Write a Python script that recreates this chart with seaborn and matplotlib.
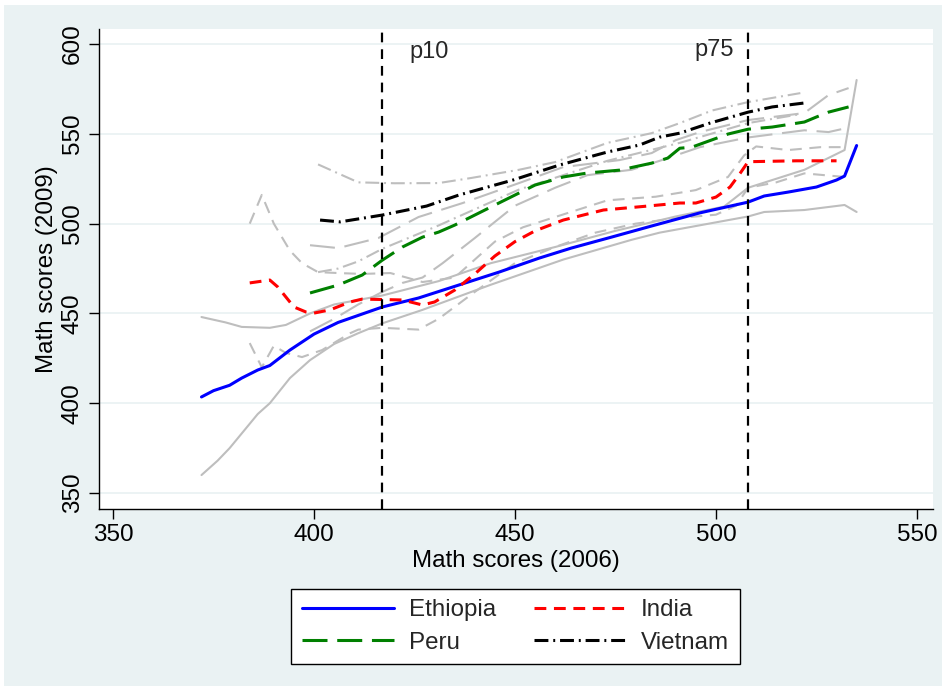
import numpy as np
import pandas as pd
import matplotlib
matplotlib.use("Agg")
import matplotlib.pyplot as plt
from matplotlib.patches import Rectangle
import seaborn as sns

# ---------------- data ----------------
eth_x = [372, 375, 379, 382, 386, 389, 394, 400, 406, 417, 426, 436, 446, 456, 464, 474, 484, 496, 508, 512, 518, 525, 530, 532, 535]
eth_y = [403.5, 407, 410, 414, 418.5, 421, 429.6, 438.5, 445, 453.6, 458.6, 465.8, 473, 480.8, 486.4, 492.5, 498.7, 506, 512, 515.4, 517.6, 520.4, 524.3, 526.5, 543.5]

ind_x = [384, 389, 391, 395, 398, 400, 404, 409, 412, 422, 427, 430, 435, 440, 445, 450, 455, 462, 472, 483, 491, 495, 500, 503.5, 506, 508, 520, 530]
ind_y = [467, 468.6, 464.7, 453.6, 450.8, 450.2, 452, 456.4, 458, 457.5, 454.7, 456.4, 463, 472, 482, 490, 496, 502, 507.6, 509.8, 511.5, 511.5, 514.8, 520.4, 528, 534.5, 535, 535]

per_x = [399, 406, 412, 417, 422, 427, 431, 435, 446, 455, 462, 468, 476, 484, 488, 491, 494, 503, 508, 514, 522, 525, 528, 533]
per_y = [461.4, 465.8, 471.4, 479.7, 487, 492.5, 495.3, 499.2, 511.5, 521.5, 526, 528.2, 529.8, 533.7, 536.5, 542, 542.6, 549.9, 552.6, 553.8, 556.6, 559.4, 562.1, 565]

vie_x = [401.5, 406.5, 417, 428, 436, 449.5, 461, 473, 481, 486, 491, 498.5, 508, 514, 522]
vie_y = [502, 501, 504.8, 509.8, 515.9, 524.3, 532.6, 539.9, 543.8, 548.2, 550.4, 556, 562.1, 565, 567.2]

# grey companion bands (upper / lower) for each country
eth_hi_x = [372, 378, 382, 389, 393, 399, 405, 417, 431, 444, 460, 475, 490, 502, 508, 522, 532, 535]
eth_hi_y = [448, 445, 442.5, 442, 443.6, 450, 455, 460, 468, 478, 487, 496, 504, 509.5, 520, 530, 541, 580]
eth_lo_x = [372, 376, 379, 386, 389, 394, 399, 405, 411, 417, 427, 444, 462, 479, 486, 508, 512, 522, 532, 535]
eth_lo_y = [360, 368, 375, 394, 400, 414, 424, 433, 439, 444.5, 452, 466, 480, 491, 495, 504, 506.5, 507.6, 510.4, 506.5]

ind_hi_x = [384, 387, 390, 394, 397, 401, 406, 412, 419, 427, 435, 445, 452, 460, 473, 485, 495, 503, 507, 510, 518, 526, 532]
ind_hi_y = [500, 516, 500, 485, 478, 473, 472.5, 472, 472.5, 467.5, 470, 490, 498, 503.7, 513, 515, 518.7, 526, 538, 543, 541, 542.6, 542.6]
ind_lo_x = [384, 387, 390, 393, 397, 402, 409, 411, 417, 426, 431, 440, 450, 460, 470, 480, 490, 500, 505, 508, 515, 522, 532]
ind_lo_y = [433.5, 420, 432, 428, 425.7, 429.6, 439, 441, 442, 441, 447, 462, 478, 487, 495, 500, 503, 505, 510, 520, 523, 528, 526]

per_hi_x = [399, 406, 416, 426, 437, 451, 462, 476, 484, 490, 496, 508, 522, 528, 533]
per_hi_y = [488, 486.4, 492, 503.7, 511.5, 522.6, 531.5, 535.4, 539.3, 546.5, 551, 557.7, 561.6, 571.6, 575.5]
per_lo_x = [399, 405, 411, 417, 422, 427, 432, 440, 450, 460, 468, 479, 486, 496, 508, 522, 528, 532]
per_lo_y = [440, 447, 455, 462, 467, 470, 478, 492, 510, 520, 527, 530, 535, 542.6, 548, 552, 551, 553]

vie_hi_x = [401, 406, 411, 420, 431, 439, 451, 460, 473, 484, 491, 499, 508, 521]
vie_hi_y = [533, 528, 523, 522.5, 522.6, 525.4, 530, 534.3, 545, 550.4, 556, 563, 567.7, 572.7]
vie_lo_x = [401, 406, 411, 417, 431, 451, 473, 491, 508, 521]
vie_lo_y = [473, 475, 479, 486, 499, 519, 535, 545, 556, 561]

countries = ["Ethiopia", "India", "Peru", "Vietnam"]
percentile_labels = ["p10", "p75"]
percentile_values = [417, 508]

x_ticks = [350, 400, 450, 500, 550]
y_ticks = [350, 400, 450, 500, 550, 600]

# ---------------- styling ----------------
sns.set_theme(style="white")
plt.rcParams["font.family"] = ["Liberation Sans", "DejaVu Sans"]
plt.rcParams["lines.scale_dashes"] = False

BG = "#EAF2F3"
GREY = "#BEBEBE"
fig = plt.figure(figsize=(9.46, 6.90), dpi=100, facecolor="white")
fig.patches.append(Rectangle((4 / 946, 1 - 686 / 690), 938 / 946, 681 / 690,
                             transform=fig.transFigure, facecolor=BG,
                             edgecolor="none", zorder=-10))
ax = fig.add_axes([99 / 946, 1 - 509 / 690, 834 / 946, 480 / 690])
ax.set_facecolor("white")

dash_styles = {
    "Ethiopia": None,
    "India": (0, (8.5, 5.5)),
    "Peru": (0, (18, 7)),
    "Vietnam": (0, (10, 3.5, 1.4, 3.5)),
}
colors = {"Ethiopia": "#0000FF", "India": "#FF0000", "Peru": "#008000", "Vietnam": "#000000"}

bands = {
    "Ethiopia": [(eth_hi_x, eth_hi_y), (eth_lo_x, eth_lo_y)],
    "India": [(ind_hi_x, ind_hi_y), (ind_lo_x, ind_lo_y)],
    "Peru": [(per_hi_x, per_hi_y), (per_lo_x, per_lo_y)],
    "Vietnam": [(vie_hi_x, vie_hi_y), (vie_lo_x, vie_lo_y)],
}
main = {
    "Ethiopia": (eth_x, eth_y),
    "India": (ind_x, ind_y),
    "Peru": (per_x, per_y),
    "Vietnam": (vie_x, vie_y),
}

# grey band lines
for c in countries:
    for bx, by in bands[c]:
        d = pd.DataFrame({"x": bx, "y": by})
        sns.lineplot(data=d, x="x", y="y", ax=ax, color=GREY, lw=1.5,
                     estimator=None, sort=False, legend=False, zorder=2)
        ln = ax.lines[-1]
        if dash_styles[c] is not None:
            ln.set_linestyle(dash_styles[c])

# main lines
handles = {}
for c in countries:
    mx, my = main[c]
    d = pd.DataFrame({"x": mx, "y": my})
    sns.lineplot(data=d, x="x", y="y", ax=ax, color=colors[c], lw=2.2,
                 estimator=None, sort=False, legend=False, zorder=4)
    ln = ax.lines[-1]
    if dash_styles[c] is not None:
        ln.set_linestyle(dash_styles[c])
    ln.set_label(c)
    handles[c] = ln

# percentile markers
for lab, v in zip(percentile_labels, percentile_values):
    ax.axvline(v, color="black", lw=1.6, linestyle=(0, (7, 5)), zorder=5)
ax.text(percentile_values[0] + 6.8, 595.5, percentile_labels[0], ha="left", va="center", fontsize=17)
ax.text(percentile_values[1] - 3.5, 596.5, percentile_labels[1], ha="right", va="center", fontsize=17)

ax.set_xlim(346.5, 554.0)
ax.set_ylim(341.1, 608.4)
ax.set_xticks(x_ticks)
ax.set_yticks(y_ticks)
ax.set_yticklabels([str(t) for t in y_ticks], rotation=90, va="center")
ax.tick_params(axis="both", direction="out", length=7, width=1, color="black",
               labelsize=17.5, labelcolor="black", pad=4, left=True, bottom=True)
ax.yaxis.grid(True, color=BG, lw=1.3)
ax.xaxis.grid(False)
ax.set_axisbelow(True)
for s in ["top", "right"]:
    ax.spines[s].set_visible(False)
for s in ["left", "bottom"]:
    ax.spines[s].set_color("black")
    ax.spines[s].set_linewidth(1)

ax.set_xlabel("Math scores (2006)", fontsize=17.4, color="black", labelpad=3)
ax.set_ylabel("Math scores (2009)", fontsize=17.4, color="black", labelpad=3)

# column-wise fill: row 1 Ethiopia / India, row 2 Peru / Vietnam
leg_order = ["Ethiopia", "Peru", "India", "Vietnam"]
leg = fig.legend(handles=[handles[c] for c in leg_order],
                 labels=leg_order, ncol=2, loc="center",
                 bbox_to_anchor=(515.5 / 946, 1 - 626.5 / 690),
                 frameon=True, fancybox=False, shadow=False, framealpha=1,
                 edgecolor="black", facecolor="white", fontsize=17.4,
                 handlelength=3.8, handletextpad=0.62, columnspacing=1.55,
                 labelspacing=0.42, borderpad=0.45)
leg.get_frame().set_linewidth(1)

fig.savefig("out.png", dpi=100, facecolor=fig.get_facecolor())
